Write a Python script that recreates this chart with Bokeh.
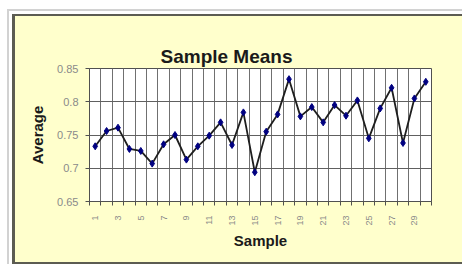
from bokeh.plotting import figure
from bokeh.models import FixedTicker
from bokeh.embed import file_html
from bokeh.resources import INLINE

# ---- data ----
samples = list(range(1, 31))
averages = [0.733, 0.756, 0.761, 0.729, 0.726, 0.707, 0.736, 0.750, 0.713, 0.733,
            0.749, 0.769, 0.735, 0.784, 0.694, 0.755, 0.781, 0.834, 0.778, 0.792,
            0.769, 0.795, 0.779, 0.802, 0.745, 0.790, 0.821, 0.738, 0.805, 0.830]
x_tick_values = samples[::2]
y_ticks = [0.65, 0.7, 0.75, 0.8, 0.85]
y_tick_labels = ["0.65", "0.7", "0.75", "0.8", "0.85"]
title_text = "Sample Means"
x_label = "Sample"
y_label = "Average"

# category boundaries (for gridlines / tick marks)
boundaries = [s - 0.5 for s in samples] + [samples[-1] + 0.5]

FONT = "Liberation Sans"
YELLOW = "#FFFFCC"
DARK = "#5c5c52"
LIGHT = "#d2d2d2"
W, H = 454, 259

# chart-area frame drawn as CSS background layers behind a transparent border
layers = [
    (DARK, "12px 14px", "442px 2px"),
    (DARK, "12px 14px", "3px 245px"),
    (LIGHT, "7px 9px", "447px 2px"),
    (LIGHT, "7px 9px", "2px 250px"),
    ("#ffffff", "0px 0px", "454px 14px"),
    ("#ffffff", "0px 0px", "12px 259px"),
]
# continuation of the chart area just past the right and bottom edges
shadows = [
    (137, -114.5, -128.5, DARK),
    (137, -119.5, -128.5, LIGHT),
    (131, -122.5, -122.5, "#ffffff"),
    (11.5, 6.5, -3.5, YELLOW),
    (10, 7, -2, DARK),
    (8.5, 5.5, -0.5, "#ffffff"),
    (7.5, 4.5, 0.5, LIGHT),
]
css = {
    "background-color": YELLOW,
    "background-image": ", ".join(f"linear-gradient({c}, {c})" for c, _, _ in layers),
    "background-position": ", ".join(pos for _, pos, _ in layers),
    "background-size": ", ".join(sz for _, _, sz in layers),
    "background-repeat": "no-repeat",
    "box-shadow": ", ".join(f"{dx}px {dy}px 0px {s}px {c}" for dx, dy, s, c in shadows),
}

p = figure(width=W, height=H, output_backend="svg", toolbar_location=None,
           x_range=(boundaries[0], boundaries[-1]), y_range=(y_ticks[0], y_ticks[-1]),
           min_border_left=89, min_border_right=23, min_border_top=68, min_border_bottom=58,
           title=title_text)
p.styles = css

p.border_fill_color = YELLOW
p.border_fill_alpha = 0.0
p.background_fill_color = "white"
p.outline_line_color = "#505050"
p.outline_line_width = 1

# title
p.title.align = "left"
p.title.offset = 71
p.title.standoff = 3
p.title.text_font = FONT
p.title.text_font_size = "19px"
p.title.text_font_style = "bold"
p.title.text_color = "#1a1a1a"

# x axis
xa = p.xaxis[0]
xa.ticker = FixedTicker(ticks=x_tick_values, minor_ticks=boundaries)
xa.major_tick_out = 0
xa.major_tick_in = 0
xa.minor_tick_out = 4
xa.minor_tick_in = 0
xa.minor_tick_line_color = "#505050"
xa.axis_line_color = "#505050"
xa.major_label_orientation = 3.14159265 / 2
xa.major_label_standoff = 10
xa.major_label_text_font = FONT
xa.major_label_text_font_size = "9px"
xa.major_label_text_color = "#8a8a8a"
xa.axis_label = x_label
xa.axis_label_text_font = FONT
xa.axis_label_text_font_size = "15px"
xa.axis_label_text_font_style = "bold"
xa.axis_label_text_color = "#1a1a1a"
xa.axis_label_standoff = 3

# y axis
ya = p.yaxis[0]
ya.ticker = FixedTicker(ticks=y_ticks)
ya.major_label_overrides = {t: l for t, l in zip(y_ticks, y_tick_labels)}
ya.major_tick_out = 4
ya.major_tick_in = 0
ya.minor_tick_line_color = None
ya.major_tick_line_color = "#505050"
ya.axis_line_color = "#505050"
ya.major_label_standoff = 7
ya.major_label_text_font = FONT
ya.major_label_text_font_size = "11px"
ya.major_label_text_color = "#8a8a8a"
ya.axis_label = y_label
ya.axis_label_text_font = FONT
ya.axis_label_text_font_size = "15px"
ya.axis_label_text_font_style = "bold"
ya.axis_label_text_color = "#1a1a1a"
ya.axis_label_standoff = 8

# grids
p.xgrid.ticker = FixedTicker(ticks=boundaries)
p.xgrid.grid_line_color = "#707070"
p.xgrid.grid_line_width = 1
p.ygrid.ticker = FixedTicker(ticks=y_ticks)
p.ygrid.grid_line_color = "#606060"
p.ygrid.grid_line_width = 1

# series
p.line(samples, averages, line_color="#1e1e1e", line_width=1.8)
p.scatter(samples, averages, marker="diamond", size=7,
          fill_color="#000080", line_color="#000080")

open("out.html", "w").write(file_html(p, INLINE))
